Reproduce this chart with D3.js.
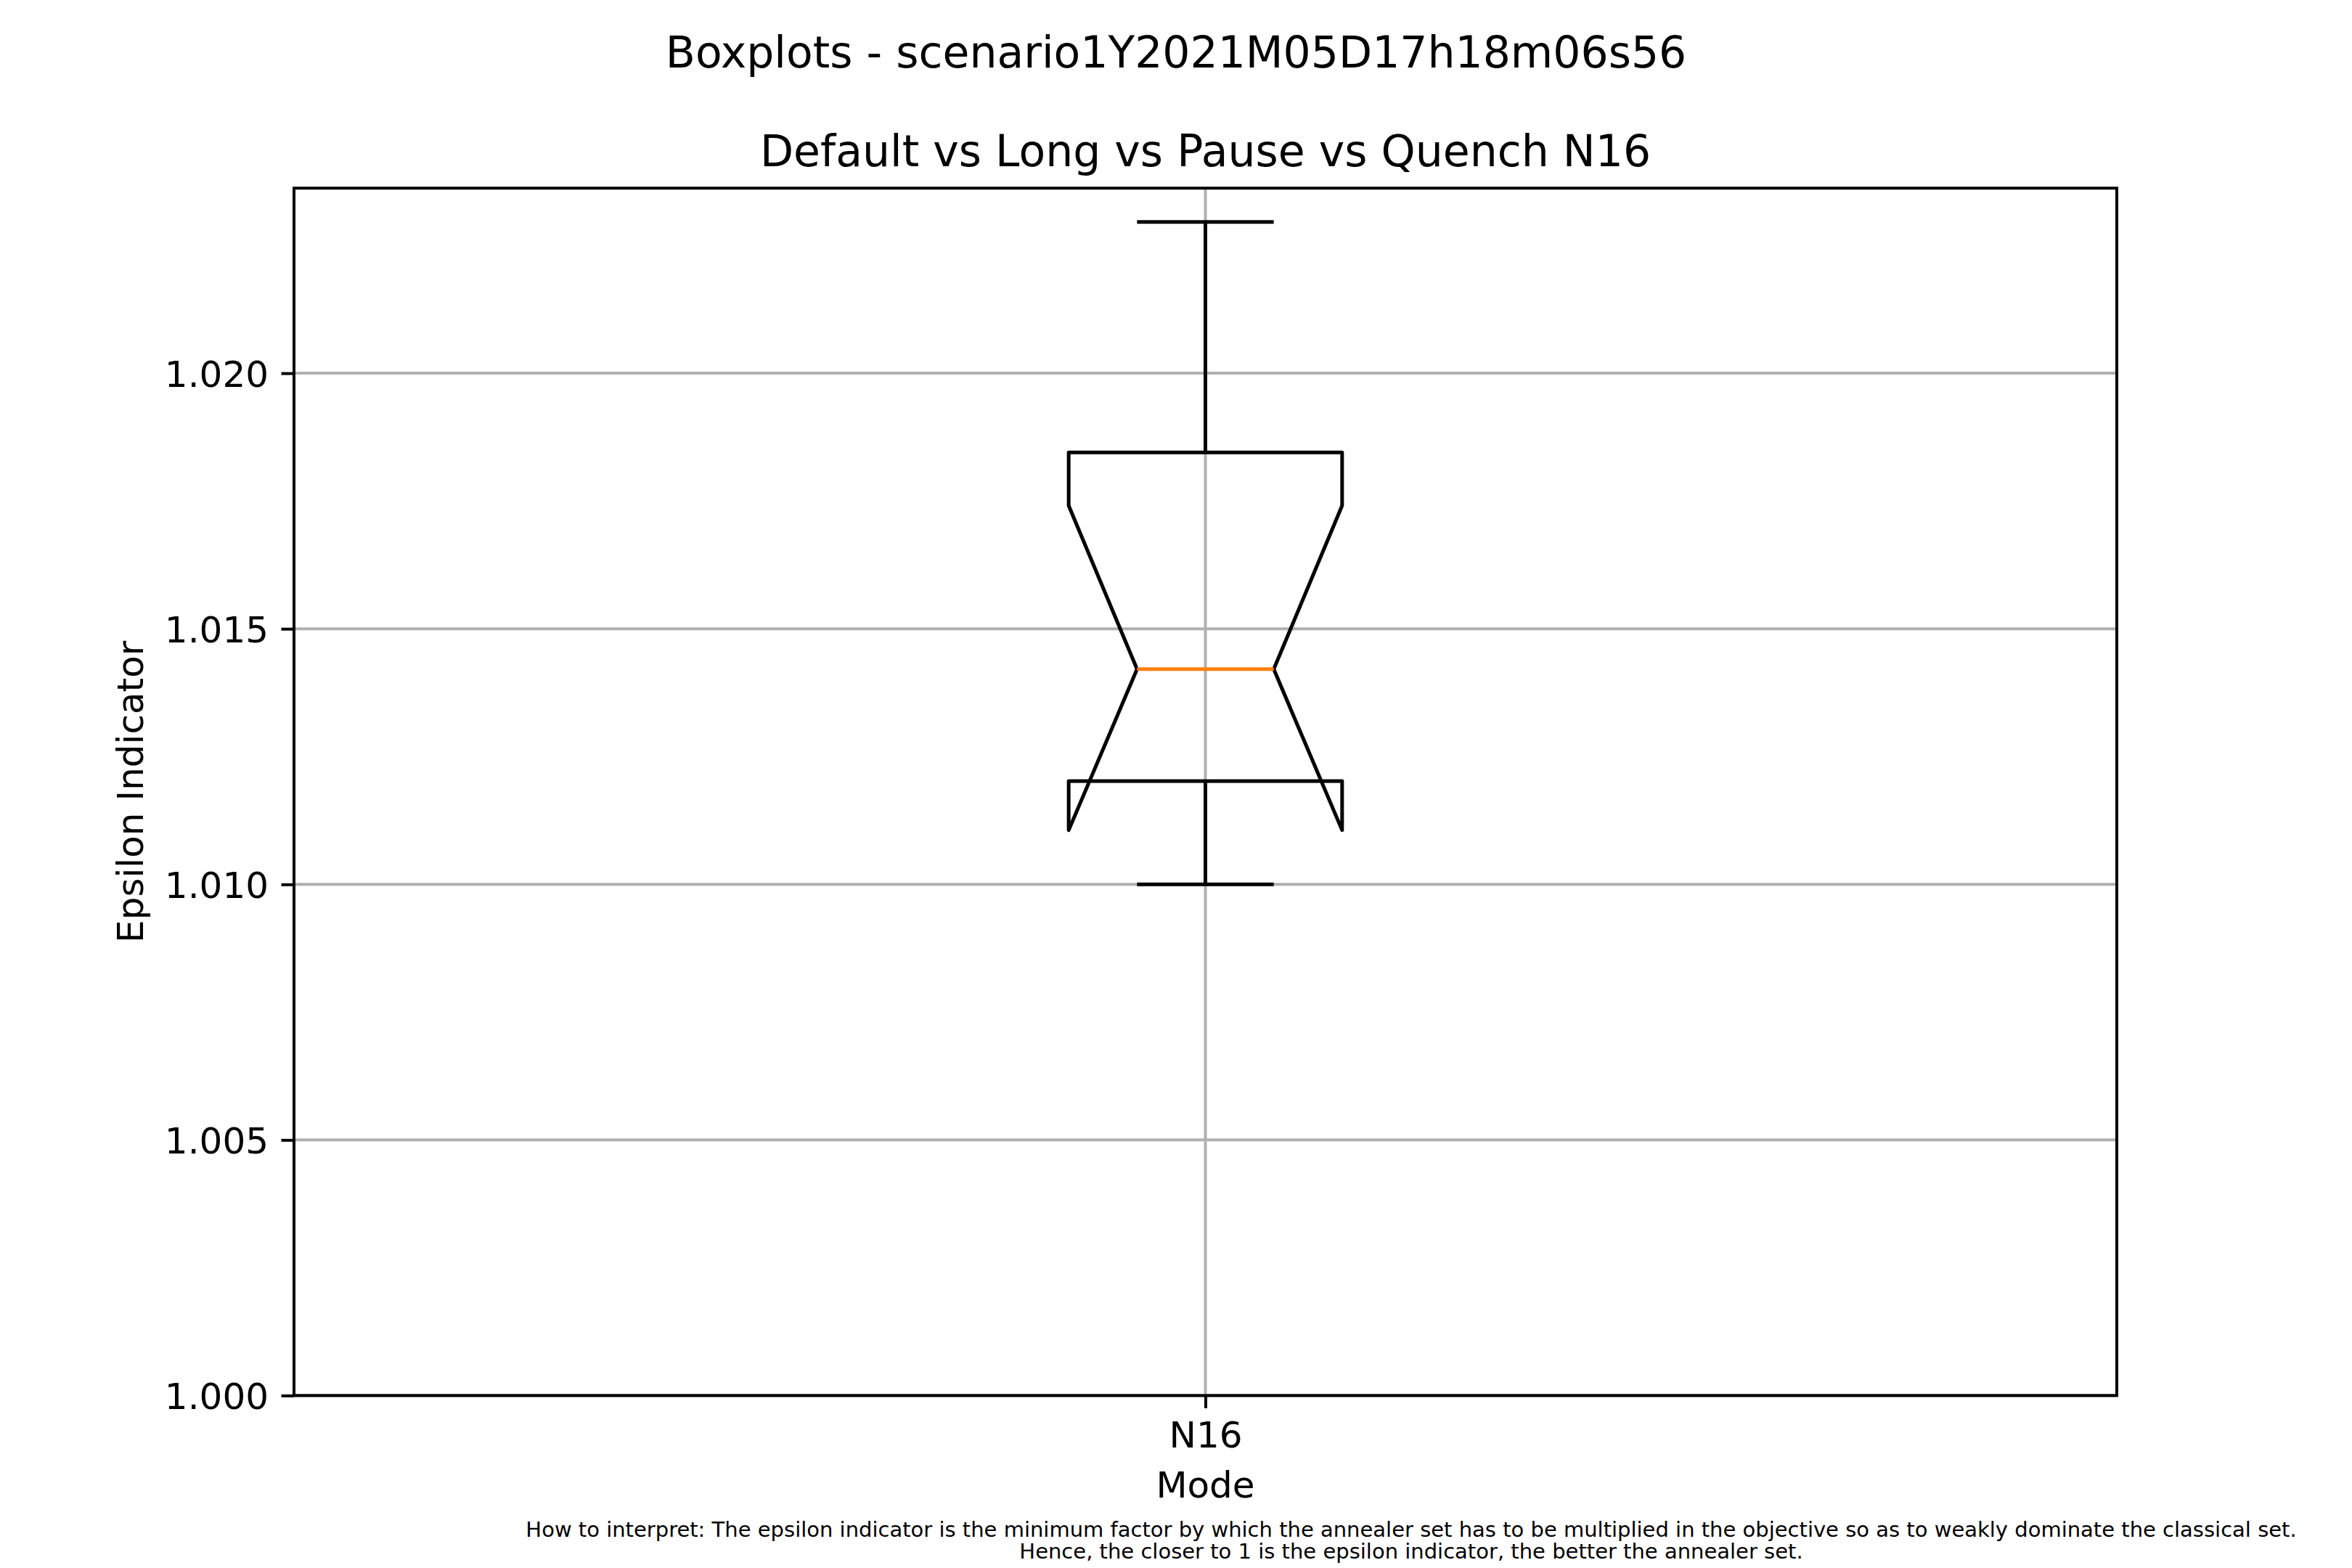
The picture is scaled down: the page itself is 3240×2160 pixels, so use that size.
<!DOCTYPE html>
<html>
<head>
<meta charset="utf-8">
<script src="https://cdn.jsdelivr.net/npm/d3@7"></script>
<style>
  html, body { margin: 0; padding: 0; background: #ffffff; }
  svg { display: block; }
  text { font-family: "DejaVu Sans", sans-serif; fill: #000; }
</style>
</head>
<body>
<script>
// ---- data ----
const categories = ["N16"];
const whiskerLow  = [1.0100];
const q1          = [1.01202];
const median      = [1.01421];
const q3          = [1.01845];
const whiskerHigh = [1.02296];
const notchLow    = [1.01106];
const notchHigh   = [1.01741];
const yTicks      = [1.000, 1.005, 1.010, 1.015, 1.020];
const yTickLabels = ["1.000", "1.005", "1.010", "1.015", "1.020"];
const yDomain     = [1.000, 1.02362];

const suptitle = "Boxplots - scenario1Y2021M05D17h18m06s56";
const title = "Default vs Long vs Pause vs Quench N16";
const xLabel = "Mode";
const yLabel = "Epsilon Indicator";
const footnote = [
  "How to interpret: The epsilon indicator is the minimum factor by which the annealer set has to be multiplied in the objective so as to weakly dominate the classical set.",
  "Hence, the closer to 1 is the epsilon indicator, the better the annealer set."
];

// ---- layout ----
const W = 3240, H = 2160;
const pL = 405, pR = 2916, pT = 259.2, pB = 1922.4;
const boxWidth = 0.15;   // in x data units

const svg = d3.select("body").append("svg")
  .attr("width", W).attr("height", H)
  .attr("viewBox", `0 0 ${W} ${H}`);
svg.append("rect").attr("width", W).attr("height", H).attr("fill", "#fff");

const x = d3.scaleLinear().domain([0.5, 0.5 + categories.length]).range([pL, pR]);
const y = d3.scaleLinear().domain(yDomain).range([pB, pT]);

const gridColor = "#b0b0b0";
const g = svg.append("g");

// grid
g.selectAll("line.hgrid").data(yTicks).join("line")
  .attr("class", "hgrid")
  .attr("x1", pL).attr("x2", pR)
  .attr("y1", d => y(d)).attr("y2", d => y(d))
  .attr("stroke", gridColor).attr("stroke-width", 4);
g.selectAll("line.vgrid").data(categories).join("line")
  .attr("class", "vgrid")
  .attr("x1", (d, i) => x(i + 1)).attr("x2", (d, i) => x(i + 1))
  .attr("y1", pT).attr("y2", pB)
  .attr("stroke", gridColor).attr("stroke-width", 4);

// boxes
categories.forEach((c, i) => {
  const cx = i + 1;
  const hw = boxWidth / 2;
  const pts = [
    [cx - hw, q1[i]], [cx + hw, q1[i]], [cx + hw, notchLow[i]],
    [cx + hw / 2, median[i]], [cx + hw, notchHigh[i]], [cx + hw, q3[i]],
    [cx - hw, q3[i]], [cx - hw, notchHigh[i]], [cx - hw / 2, median[i]],
    [cx - hw, notchLow[i]]
  ];
  const line = d3.line().x(p => x(p[0])).y(p => y(p[1]));
  g.append("path").attr("d", line(pts) + "Z")
    .attr("fill", "none").attr("stroke", "#000").attr("stroke-width", 5)
    .attr("stroke-linejoin", "round");

  // whiskers
  [[q1[i], whiskerLow[i]], [q3[i], whiskerHigh[i]]].forEach(([a, b]) => {
    g.append("line")
      .attr("x1", x(cx)).attr("x2", x(cx))
      .attr("y1", y(a)).attr("y2", y(b))
      .attr("stroke", "#000").attr("stroke-width", 5);
  });
  // caps
  [whiskerLow[i], whiskerHigh[i]].forEach(v => {
    g.append("line")
      .attr("x1", x(cx - hw / 2)).attr("x2", x(cx + hw / 2))
      .attr("y1", y(v)).attr("y2", y(v))
      .attr("stroke", "#000").attr("stroke-width", 5);
  });
  // median
  g.append("line")
    .attr("x1", x(cx - hw / 2)).attr("x2", x(cx + hw / 2))
    .attr("y1", y(median[i])).attr("y2", y(median[i]))
    .attr("stroke", "#ff7f0e").attr("stroke-width", 5);
});

// spines
svg.append("rect")
  .attr("x", pL).attr("y", pT)
  .attr("width", pR - pL).attr("height", pB - pT)
  .attr("fill", "none").attr("stroke", "#000").attr("stroke-width", 4)
  .attr("stroke-linejoin", "miter");

// y axis ticks & labels
const yAxis = d3.axisLeft(y).tickValues(yTicks)
  .tickFormat((d, i) => yTickLabels[i])
  .tickSizeInner(17.5).tickSizeOuter(0).tickPadding(17.5);
const ya = svg.append("g").attr("transform", `translate(${pL},0)`).call(yAxis);
ya.select(".domain").remove();
ya.selectAll(".tick line").attr("stroke", "#000").attr("stroke-width", 4);
ya.selectAll(".tick text")
  .attr("font-family", "DejaVu Sans").attr("font-size", 50)
  .attr("fill", "#000").attr("dy", "0.36em");

// x axis ticks & labels
const xAxis = d3.axisBottom(x).tickValues(categories.map((c, i) => i + 1))
  .tickFormat((d, i) => categories[i])
  .tickSizeInner(17.5).tickSizeOuter(0).tickPadding(17.5);
const xa = svg.append("g").attr("transform", `translate(0,${pB})`).call(xAxis);
xa.select(".domain").remove();
xa.selectAll(".tick line").attr("stroke", "#000").attr("stroke-width", 4);
xa.selectAll(".tick text")
  .attr("font-family", "DejaVu Sans").attr("font-size", 50)
  .attr("fill", "#000").attr("dy", null).attr("y", 1994 - pB);

// axis labels
svg.append("text").attr("x", (pL + pR) / 2).attr("y", 2063)
  .attr("text-anchor", "middle").attr("font-size", 50).text(xLabel);
svg.append("text")
  .attr("transform", `translate(197,${(pT + pB) / 2}) rotate(-90)`)
  .attr("text-anchor", "middle").attr("font-size", 50).text(yLabel);

// titles
svg.append("text").attr("x", W / 2).attr("y", 93)
  .attr("text-anchor", "middle").attr("font-size", 60).text(suptitle);
svg.append("text").attr("x", (pL + pR) / 2).attr("y", 229)
  .attr("text-anchor", "middle").attr("font-size", 60).text(title);

// footnote
svg.selectAll("text.foot").data(footnote).join("text")
  .attr("class", "foot")
  .attr("x", W * 0.6).attr("y", (d, i) => 2117 + i * 30)
  .attr("text-anchor", "middle").attr("font-size", 29)
  .text(d => d);
</script>
</body>
</html>
